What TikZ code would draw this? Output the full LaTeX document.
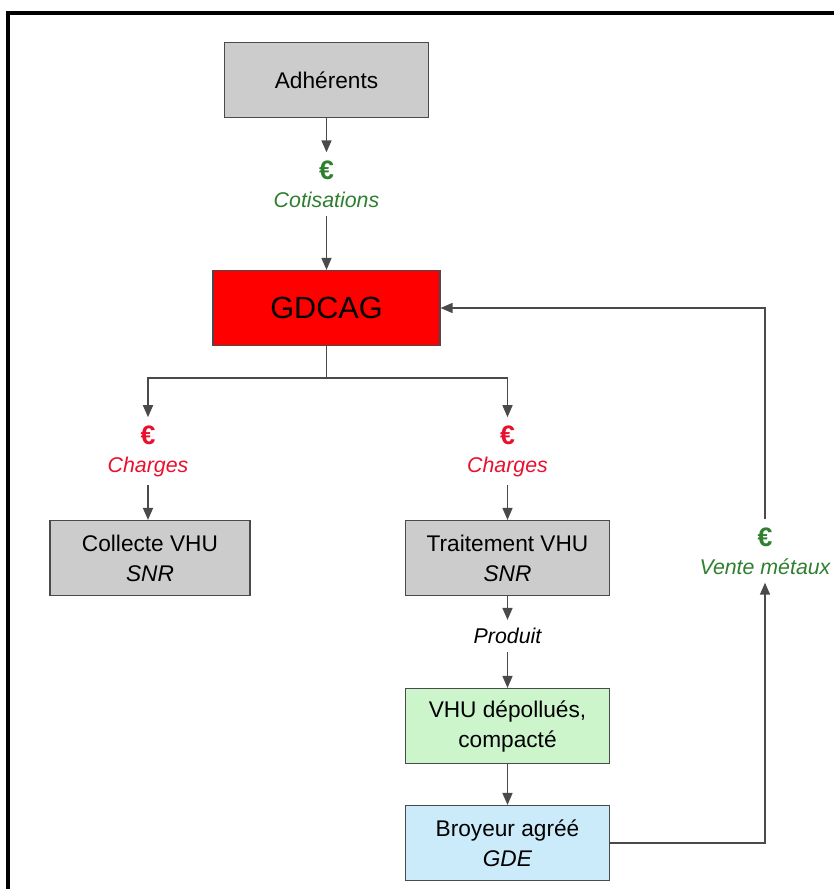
\documentclass[tikz,border=0pt]{standalone}
\usepackage{fontspec}
\setmainfont{Liberation Sans}
\usetikzlibrary{arrows.meta}
\definecolor{boxgray}{HTML}{CCCCCC}
\definecolor{linegray}{HTML}{4A4A4A}
\definecolor{vhugreen}{HTML}{CCF5CC}
\definecolor{broyblue}{HTML}{CCEBFA}
\definecolor{eurogreen}{HTML}{2F7F2F}
\definecolor{eurored}{HTML}{E8102E}
\newcommand{\eur}{{\upshape\bfseries\fontsize{20}{21}\selectfont €}}
\begin{document}
\begin{tikzpicture}[x=0.75pt,y=-0.75pt,
	box/.style={draw=linegray,line width=1.1pt,minimum width=153pt,minimum height=56pt,align=center,inner sep=0pt,font=\fontsize{17}{22.5}\selectfont},
	money/.style={align=center,inner sep=6pt,font=\fontsize{16}{21}\selectfont\itshape},
	flow/.style={draw=linegray,line width=1.1pt,-{Triangle[length=9pt,width=7.5pt]}},
	plain/.style={draw=linegray,line width=1.1pt}]
	\useasboundingbox (0,0) rectangle (834,889);
	\draw[line width=2.3pt] (8,889) -- (8,13) -- (834,13);
	% boxes
	\node[box,fill=boxgray] (adh) at (326.5,80) {Adhérents};
	\node[box,fill=red,minimum width=170pt,font=\fontsize{23}{28}\selectfont] (gdcag) at (326.5,308) {GDCAG};
	\node[box,fill=boxgray,minimum width=150pt] (col) at (150,558) {Collecte VHU\\\textit{SNR}};
	\node[box,fill=boxgray] (trt) at (507.5,558) {Traitement VHU\\\textit{SNR}};
	\node[box,fill=vhugreen] (vhu) at (507.5,726) {VHU dépollués,\\compacté};
	\node[box,fill=broyblue] (broy) at (507.5,843) {Broyeur agréé\\\textit{GDE}};
	% flows
	\node[money,text=eurogreen] (cot) at (326.5,184) {\eur\\Cotisations};
	\node[money,text=eurored] (chg1) at (148,451) {\eur\\Charges};
	\node[money,text=eurored] (chg2) at (507.5,451) {\eur\\Charges};
	\node[money] (prod) at (507.5,636) {Produit};
	\node[money,text=eurogreen] (vente) at (765,551) {\eur\\Vente métaux};
	\coordinate (split) at (326.5,378);
	\draw[flow] (adh) -- (cot);
	\draw[flow] (cot) -- (gdcag);
	\draw[plain] (gdcag) -- (split);
	\draw[flow] (split) -| (chg1);
	\draw[flow] (split) -| (chg2);
	\draw[flow] (chg1) -- (chg1 |- col.north);
	\draw[flow] (chg2) -- (trt);
	\draw[flow] (trt) -- (prod);
	\draw[flow] (prod) -- (vhu);
	\draw[flow] (vhu) -- (broy);
	\draw[flow] (broy.east) -| (vente.south);
	\draw[flow] (vente.north) |- (gdcag.east);
\end{tikzpicture}
\end{document}
